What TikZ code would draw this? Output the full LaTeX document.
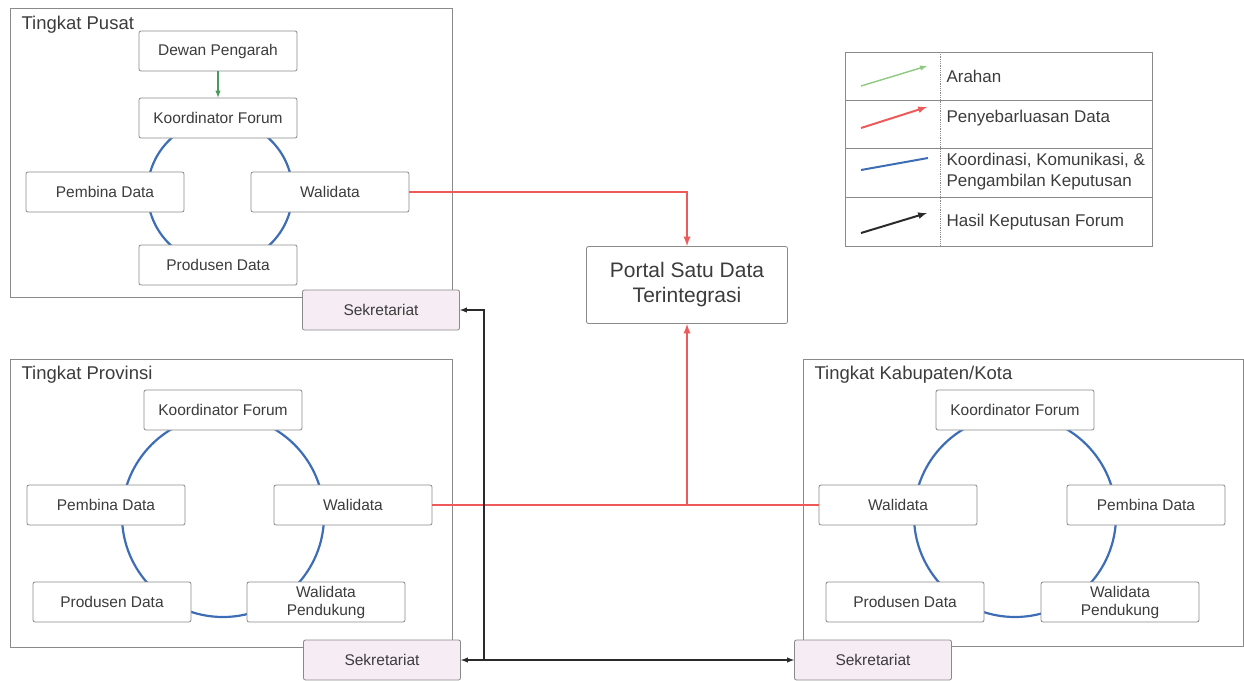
\documentclass[tikz,border=0pt]{standalone}
\usepackage{fontspec}
\setmainfont{Liberation Sans}
\usepackage{xcolor}
\usetikzlibrary{positioning}

\definecolor{boxgray}{HTML}{8A8A8A}
\definecolor{txtgray}{HTML}{3C3C3C}
\definecolor{datared}{HTML}{EE5A5A}
\definecolor{ringblue}{HTML}{3D6DB5}
\definecolor{arahgreen}{HTML}{4A9A5C}
\definecolor{lightgreen}{HTML}{8DC97E}
\definecolor{hasilblack}{HTML}{2A2A2A}
\definecolor{sekpink}{HTML}{F6ECF3}

\begin{document}
\begin{tikzpicture}[x=1pt,y=-1pt,>=latex,
  box/.style={draw=boxgray,rounded corners=2pt,fill=white,line width=0.8pt,
    minimum width=158pt,minimum height=40pt,inner sep=1pt,align=center,
    text=txtgray,font=\fontsize{15.5}{18}\selectfont},
  sekbox/.style={box,fill=sekpink,minimum width=157pt},
  level/.style={draw=boxgray,line width=0.8pt},
  levellabel/.style={anchor=west,text=txtgray,font=\fontsize{18.5}{22}\selectfont},
  legtext/.style={anchor=west,align=left,text=txtgray,font=\fontsize{17}{21}\selectfont},
  ring/.style={draw=ringblue,line width=2.2pt},
  data/.style={draw=datared,line width=2.2pt},
  hasil/.style={draw=hasilblack,line width=1.4pt}]
  \useasboundingbox (0,0) rectangle (1244,680);

  % tingkat pusat
  \draw[level] (10,8) rectangle (452,297);
  \node[levellabel] (pusatlbl) at (18,25) {Tingkat Pusat};
  \draw[ring] (220,192) circle (72.5);
  \node[box] (dewan) at (218,51) {Dewan Pengarah};
  \node[box] (koordP) at (218,118) {Koordinator Forum};
  \node[box] (pembinaP) at (105,192) {Pembina Data};
  \node[box] (walidataP) at (330,192) {Walidata};
  \node[box] (produsenP) at (218,265) {Produsen Data};
  \node[sekbox] (sekP) at (381,310) {Sekretariat};
  \draw[->,arahgreen,line width=1.4pt] (dewan) -- (koordP);

  % tingkat provinsi
  \draw[level] (10,359) rectangle (452,647);
  \node[levellabel] (provlbl) at (18,375) {Tingkat Provinsi};
  \draw[ring] (223,516) circle (101);
  \node[box] (koordV) at (223,410) {Koordinator Forum};
  \node[box] (pembinaV) at (106,505) {Pembina Data};
  \node[box] (walidataV) at (353,505) {Walidata};
  \node[box] (produsenV) at (112,602) {Produsen Data};
  \node[box] (pendukungV) at (326,602) {Walidata\\Pendukung};
  \node[sekbox] (sekV) at (382,660) {Sekretariat};

  % tingkat kabupaten/kota
  \draw[level] (803,359) rectangle (1243,646);
  \node[levellabel] (kablbl) at (811,375) {Tingkat Kabupaten/Kota};
  \draw[ring] (1015,516) circle (101);
  \node[box] (koordK) at (1015,410) {Koordinator Forum};
  \node[box] (walidataK) at (898,505) {Walidata};
  \node[box] (pembinaK) at (1146,505) {Pembina Data};
  \node[box] (produsenK) at (905,602) {Produsen Data};
  \node[box] (pendukungK) at (1120,602) {Walidata\\Pendukung};
  \node[sekbox] (sekK) at (873,660) {Sekretariat};

  % portal
  \node[box,minimum width=201pt,minimum height=77pt,
    font=\fontsize{21}{25}\selectfont] (portal) at (687,285)
    {Portal Satu Data\\Terintegrasi};

  % penyebarluasan data
  \draw[data,->] (walidataP.east) -| (portal.north);
  \draw[data] (walidataV.east) -- (walidataK.west);
  \coordinate (simpang) at (portal.south |- walidataV.east);
  \draw[data,->] (simpang) -- (portal.south);

  % hasil keputusan forum
  \coordinate (tiang) at (484,660);
  \draw[hasil,->] (tiang) |- (sekP.east);
  \draw[hasil,<->] (sekV.east) -- (sekK.west);

  % legenda
  \draw[level] (845,52) rectangle (1152,246);
  \draw[level] (845,100) -- (1152,100);
  \draw[level] (845,148) -- (1152,148);
  \draw[level] (845,197) -- (1152,197);
  \draw[boxgray,line width=0.8pt,densely dotted] (940,52) -- (940,246);
  \coordinate (g1) at (861,86);  \coordinate (g2) at (927,66);
  \coordinate (r1) at (861,128); \coordinate (r2) at (927,107);
  \coordinate (b1) at (861,170); \coordinate (b2) at (928,158);
  \coordinate (k1) at (861,233); \coordinate (k2) at (927,213);
  \draw[->,lightgreen,line width=1.4pt] (g1) -- (g2);
  \draw[->,datared,line width=2pt] (r1) -- (r2);
  \draw[ringblue,line width=2pt] (b1) -- (b2);
  \draw[->,hasilblack,line width=2pt] (k1) -- (k2);
  \node[legtext] (arahan) at (943,76) {Arahan};
  \node[legtext] (sebar) at (943,118) {Penyebarluasan Data};
  \node[legtext] (koord) at (943,172) {Koordinasi, Komunikasi, \&\\Pengambilan Keputusan};
  \node[legtext] (hasil) at (943,222) {Hasil Keputusan Forum};
\end{tikzpicture}
\end{document}
